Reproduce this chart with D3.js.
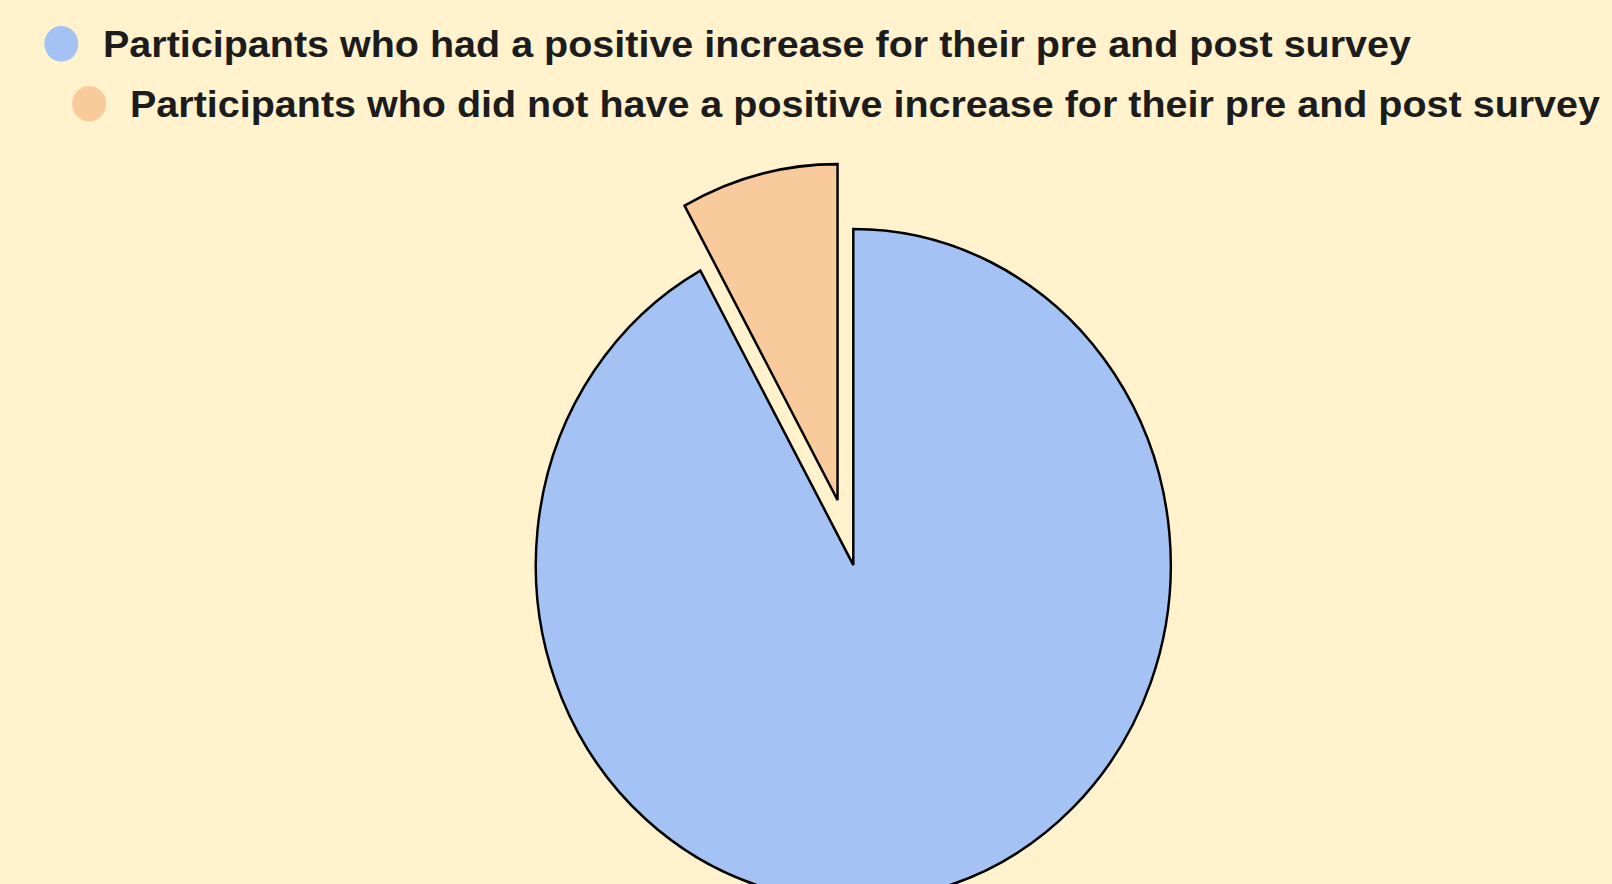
<!DOCTYPE html>
<html>
<head>
<meta charset="utf-8">
<script src="https://cdn.jsdelivr.net/npm/d3@7"></script>
<style>
  html, body { margin: 0; padding: 0; background: #fff2cc; overflow: hidden; }
</style>
</head>
<body>
<div id="chart"></div>
<script>
// =======================
// DATA
// =======================
const categories = [
  "Participants who had a positive increase for their pre and post survey",
  "Participants who did not have a positive increase for their pre and post survey"
];
const values = [92, 8];
const colors = ["#a4c2f4", "#f9cb9c"];
const exploded = [false, true];

// =======================
// SVG SETUP
// =======================
const width = 1612;
const height = 884;

const svg = d3.select("#chart")
  .append("svg")
  .attr("width", width)
  .attr("height", height)
  .style("display", "block")
  .style("background-color", "#fff2cc");

// the picture is a bit squeezed sideways, so the pie is too
const squeezeX = 0.945;
const cx = 853.3;
const cy = 565;
const radius = 336;
const explodeBy = 67;

const pie = d3.pie().sort(null).value(d => d.value);
const arc = d3.arc().innerRadius(0).outerRadius(radius);

const rows = categories.map((c, i) => ({ name: c, value: values[i], color: colors[i], out: exploded[i] }));

const g = svg.append("g")
  .attr("transform", `translate(${cx},${cy}) scale(${squeezeX},1)`);

g.selectAll("path.slice")
  .data(pie(rows))
  .enter()
  .append("path")
  .attr("class", "slice")
  .attr("d", arc)
  .attr("transform", d => {
    if (!d.data.out) return null;
    const mid = (d.startAngle + d.endAngle) / 2;
    return `translate(${Math.sin(mid) * explodeBy},${-Math.cos(mid) * explodeBy})`;
  })
  .attr("fill", d => d.data.color)
  .attr("stroke", "#000")
  .attr("stroke-width", 2.6)
  .attr("stroke-linejoin", "miter");

// =======================
// LEGEND
// =======================
const legendRows = [
  { dotX: 61.3, dotY: 43.8, textX: 103, baseY: 57.3, right: 1411 },
  { dotX: 89.2, dotY: 103.7, textX: 130, baseY: 117.3, right: 1600 }
];

categories.forEach((c, i) => {
  const L = legendRows[i];
  svg.append("ellipse")
    .attr("cx", L.dotX)
    .attr("cy", L.dotY)
    .attr("rx", 17)
    .attr("ry", 17.8)
    .attr("fill", colors[i]);

  svg.append("text")
    .attr("x", L.textX)
    .attr("y", L.baseY)
    .attr("textLength", L.right - L.textX)
    .attr("lengthAdjust", "spacingAndGlyphs")
    .style("font-family", "'Liberation Sans', Arial, sans-serif")
    .style("font-weight", "bold")
    .style("font-size", "37.5px")
    .style("fill", "#1c1c1c")
    .text(c);
});
</script>
</body>
</html>
